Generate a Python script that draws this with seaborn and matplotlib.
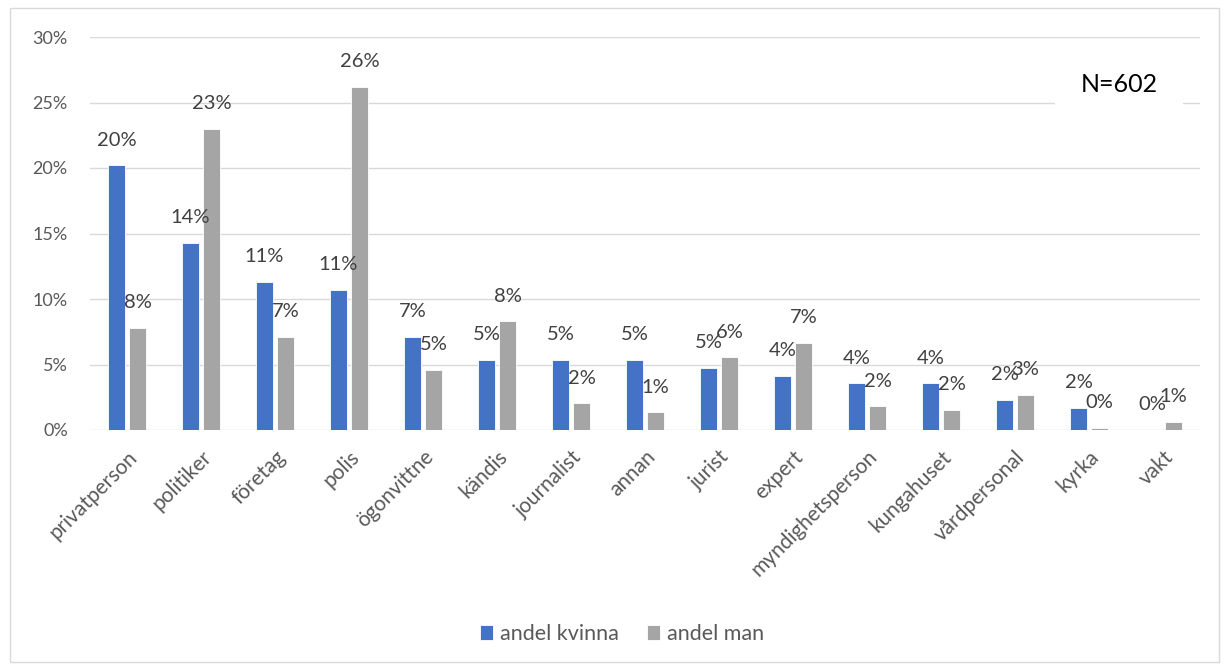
import matplotlib
matplotlib.use("Agg")
import matplotlib.pyplot as plt
import seaborn as sns
import pandas as pd
from matplotlib.patches import Rectangle

categories = ["privatperson", "politiker", "företag", "polis", "ögonvittne", "kändis",
              "journalist", "annan", "jurist", "expert", "myndighetsperson", "kungahuset",
              "vårdpersonal", "kyrka", "vakt"]
andel_kvinna = [20.2, 14.3, 11.3, 10.7, 7.1, 5.35, 5.35, 5.35, 4.74, 4.15, 3.55, 3.55, 2.3, 1.7, 0.0]
andel_man = [7.8, 23.0, 7.1, 26.2, 4.6, 8.3, 2.04, 1.35, 5.55, 6.65, 1.8, 1.55, 2.7, 0.15, 0.6]
series_names = ["andel kvinna", "andel man"]
yticks = [0, 5, 10, 15, 20, 25, 30]

df = pd.DataFrame({
    "kategori": categories * 2,
    "serie": [series_names[0]] * len(categories) + [series_names[1]] * len(categories),
    "andel": andel_kvinna + andel_man,
})

sns.set_theme(style="white")
plt.rcParams["font.family"] = ["Lato", "DejaVu Sans"]

fig = plt.figure(figsize=(12.27, 6.64), dpi=100)
ax = fig.add_axes([90 / 1227, 1 - 430 / 664, 1110 / 1227, 393 / 664])

sns.barplot(data=df, x="kategori", y="andel", hue="serie", order=categories,
            hue_order=series_names, palette=["#4472C4", "#A5A5A5"], saturation=1,
            width=0.57, gap=0.225, ax=ax, legend=True, edgecolor="white", linewidth=0.6)

ax.set_xlim(-0.5, len(categories) - 0.5)
ax.set_ylim(0, 30)
ax.set_yticks(yticks)
ax.set_yticklabels([f"{t}%" for t in yticks], fontsize=13, color="#595959")
ax.yaxis.grid(True, color="#D9D9D9", linewidth=1.0)
ax.set_axisbelow(True)
for s in ax.spines.values():
    s.set_visible(False)
ax.tick_params(axis="y", length=0, pad=16)
ax.tick_params(axis="x", length=0, pad=12)
ax.set_xlabel("")
ax.set_ylabel("")
ax.set_xticks(range(len(categories)))
ax.set_xticklabels(categories, rotation=45, ha="right", rotation_mode="anchor",
                   fontsize=15, color="#595959")

for cont in ax.containers:
    vals = [b.get_height() for b in cont]
    ax.bar_label(cont, labels=[f"{v:.0f}%" for v in vals], padding=12,
                 fontsize=14.5, color="#404040")

handles, labels = ax.get_legend_handles_labels()
ax.get_legend().remove()
fig.legend(handles, labels, loc="center", bbox_to_anchor=(0.507, 0.045), ncol=2,
           frameon=False, fontsize=15.5, handlelength=0.6, handleheight=0.75,
           handletextpad=0.35, columnspacing=1.3, labelcolor="#595959")

ax.text(1119 / 1227, 1 - 85 / 664, "N=602", transform=fig.transFigure,
        ha="center", va="center", fontsize=18, color="black",
        bbox=dict(boxstyle="square,pad=1.0", facecolor="white", edgecolor="none"))

fig.patches.append(Rectangle((10 / 1227, 2 / 664), 1209 / 1227, 654 / 664,
                             transform=fig.transFigure, fill=False,
                             edgecolor="#D9D9D9", linewidth=1.0))

fig.savefig("out.png", dpi=100)
